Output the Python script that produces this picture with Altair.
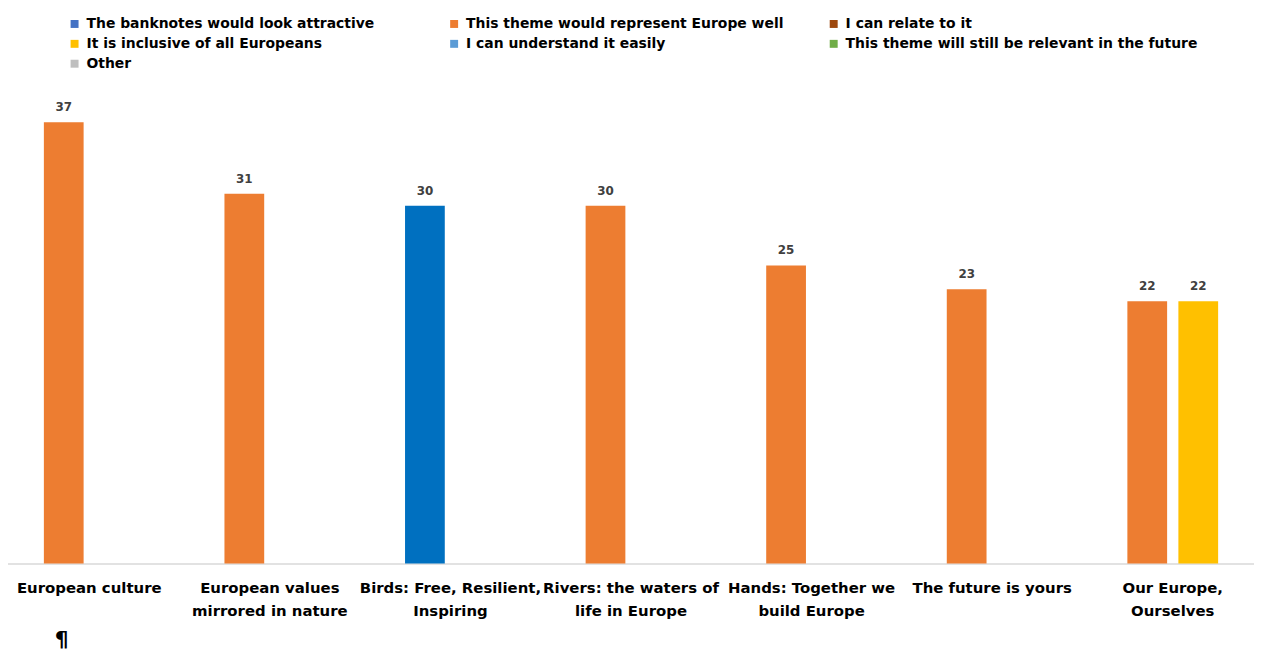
import altair as alt
import pandas as pd

categories = [
    "European culture",
    "European values\nmirrored in nature",
    "Birds: Free, Resilient,\nInspiring",
    "Rivers: the waters of\nlife in Europe",
    "Hands: Together we\nbuild Europe",
    "The future is yours",
    "Our Europe,\nOurselves",
]

series = [
    "The banknotes would look attractive",
    "This theme would represent Europe well",
    "I can relate to it",
    "It is inclusive of all Europeans",
    "I can understand it easily",
    "This theme will still be relevant in the future",
    "Other",
]
legend_colors = ["#4472C4", "#ED7D31", "#9E480E", "#FFC000", "#5B9BD5", "#70AD47", "#BFBFBF"]
bar_colors = ["#0070C0", "#ED7D31", "#9E480E", "#FFC000", "#5B9BD5", "#70AD47", "#BFBFBF"]

bar_category = [categories[0], categories[1], categories[2], categories[3],
                categories[4], categories[5], categories[6], categories[6]]
bar_series = [series[1], series[1], series[0], series[1], series[1], series[1], series[1], series[3]]
bar_values = [37, 31, 30, 30, 25, 23, 22, 22]
bar_slot = [0, 0, 0, 0, 0, 0, 0, 1]

df = pd.DataFrame({
    "category": bar_category,
    "series": bar_series,
    "value": bar_values,
    "slot": bar_slot,
})

FONT = "DejaVu Sans"

x_enc = alt.X(
    "category:N",
    sort=categories,
    scale=alt.Scale(range=[-9.1, 1263.1], paddingInner=0, paddingOuter=0),
    axis=alt.Axis(
        title=None,
        labelAngle=0,
        labelExpr="split(datum.label, '\\n')",
        labelFont=FONT,
        labelFontSize=15,
        labelFontWeight="bold",
        labelColor="#000000",
        labelPadding=24,
        labelLineHeight=23,
        labelBaseline="middle",
        labelLimit=400,
        ticks=False,
        domainColor="#D9D9D9",
        domainWidth=1.5,
        grid=False,
    ),
)
xoff_enc = alt.XOffset("slot:O", scale=alt.Scale(domain=[0, 1], paddingInner=0, paddingOuter=0.77))
y_enc = alt.Y("value:Q", scale=alt.Scale(domain=[0, 40], nice=False), axis=None)

# zero-height bars that only carry the legend (legend swatch colours)
legend_bars = alt.Chart(df).mark_bar(size=40).encode(
    x=x_enc,
    xOffset=xoff_enc,
    y=alt.value(480),
    y2=alt.value(480),
    color=alt.Color(
        "series:N",
        scale=alt.Scale(domain=series, range=legend_colors),
        legend=alt.Legend(
            title=None,
            orient="none",
            direction="horizontal",
            legendX=60,
            legendY=-70,
            columns=3,
            gridAlign="all",
            columnPadding=8,
            rowPadding=6,
            symbolType="square",
            symbolSize=64,
            symbolStrokeWidth=0,
            labelFont=FONT,
            labelFontSize=14,
            labelFontWeight="bold",
            labelColor="#000000",
            labelOffset=5,
            labelLimit=500,
        ),
    ),
)

bars = alt.Chart(df).mark_bar(size=40).encode(
    x=x_enc,
    xOffset=xoff_enc,
    y=y_enc,
    fill=alt.Fill("series:N", scale=alt.Scale(domain=series, range=bar_colors), legend=None),
)

labels = alt.Chart(df).mark_text(
    font=FONT, fontSize=12, fontWeight="bold", color="#404040", baseline="middle", dy=-15
).encode(
    x=x_enc,
    xOffset=xoff_enc,
    y=y_enc,
    text="value:Q",
)

pilcrow = alt.Chart(pd.DataFrame({"t": ["¶"]})).mark_text(
    font="DejaVu Sans", fontSize=22, fontWeight="bold", color="#000000", baseline="middle"
).encode(x=alt.value(54), y=alt.value(557), text="t:N")

chart = alt.layer(legend_bars, bars, labels, pilcrow).properties(
    width=1254,
    height=480,
    padding={"left": 0, "top": 77, "right": 0, "bottom": 87},
    autosize=alt.AutoSizeParams(type="none"),
).configure_view(stroke=None)

chart.save("out.html", embed_options={"renderer": "svg", "actions": False})
